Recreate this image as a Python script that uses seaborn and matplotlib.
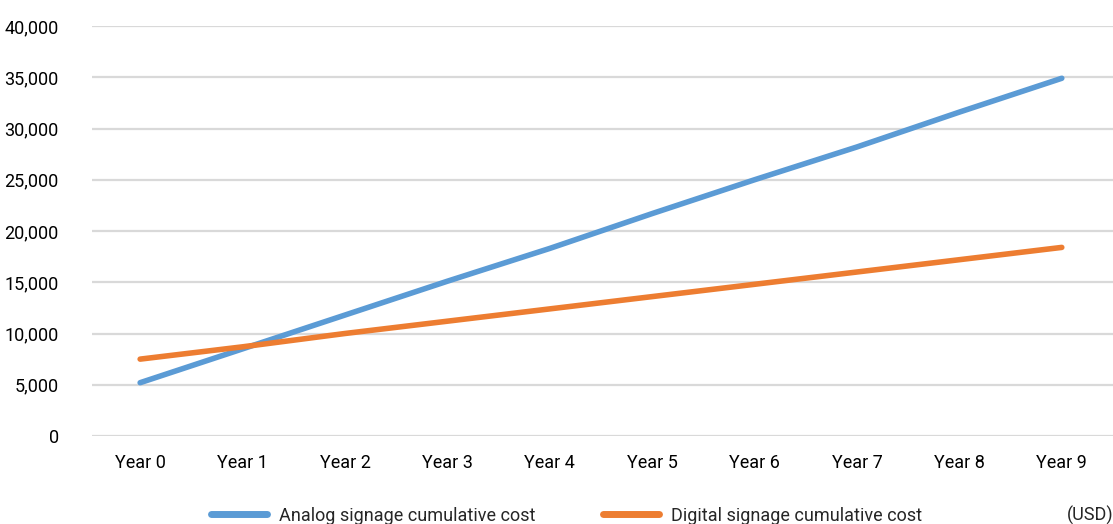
import numpy as np
import pandas as pd
import matplotlib
matplotlib.use("Agg")
import matplotlib.pyplot as plt
import seaborn as sns


YEARS = ["Year 0", "Year 1", "Year 2", "Year 3", "Year 4",
         "Year 5", "Year 6", "Year 7", "Year 8", "Year 9"]
ANALOG = [5200, 8500, 11800, 15100, 18300, 21700, 25000, 28200, 31600, 34900]
DIGITAL = [7500, 8700, 10000, 11200, 12400, 13600, 14800, 16000, 17200, 18400]
SERIES = ["Analog signage cumulative cost", "Digital signage cumulative cost"]
COLORS = ["#5B9BD5", "#ED7D31"]


def build_frame():
    rows = []
    for name, values in zip(SERIES, [ANALOG, DIGITAL]):
        for i, (year, v) in enumerate(zip(YEARS, values)):
            rows.append({"pos": i, "year": year, "series": name, "cost": v})
    return pd.DataFrame(rows)


def main():
    sns.set_style("white")
    plt.rcParams["font.family"] = ["Roboto", "DejaVu Sans"]

    df = build_frame()

    fig = plt.figure(figsize=(11.13, 5.24), dpi=100)
    ax = fig.add_axes([92 / 1113, 1 - 436 / 524, 1 - 92 / 1113, (436 - 26) / 524])

    sns.lineplot(
        data=df, x="pos", y="cost", hue="series",
        palette=COLORS, linewidth=4, ax=ax, legend=False,
        solid_capstyle="round", zorder=3
    )

    ax.set_xlim(-0.47, 9.5)
    ax.set_ylim(0, 40000)
    ax.set_xticks(range(len(YEARS)))
    ax.set_xticklabels(YEARS)
    ax.set_yticks(np.arange(0, 40001, 5000))
    ax.set_yticklabels([f"{v:,}" for v in range(0, 40001, 5000)])
    ax.tick_params(axis="both", labelsize=13, colors="#000000", length=0)
    ax.tick_params(axis="x", pad=13)
    ax.tick_params(axis="y", pad=24)
    ax.grid(axis="y", color="#d9d9d9", linewidth=1.6)
    ax.set_axisbelow(True)
    for side in ax.spines.values():
        side.set_visible(False)
    ax.set_xlabel("")
    ax.set_ylabel("")

    handles = [plt.Line2D([], [], color=c, linewidth=5, solid_capstyle="round")
               for c in COLORS]
    fig.legend(handles, SERIES, loc="center", bbox_to_anchor=(0.509, 0.016),
               ncol=2, frameon=False, fontsize=13, handlelength=3.1,
               columnspacing=3.7, handletextpad=0.7)
    fig.text(1.0, 0.016, "(USD)", ha="right", va="center", fontsize=13)

    fig.savefig("out.png", dpi=100)


if __name__ == "__main__":
    main()
